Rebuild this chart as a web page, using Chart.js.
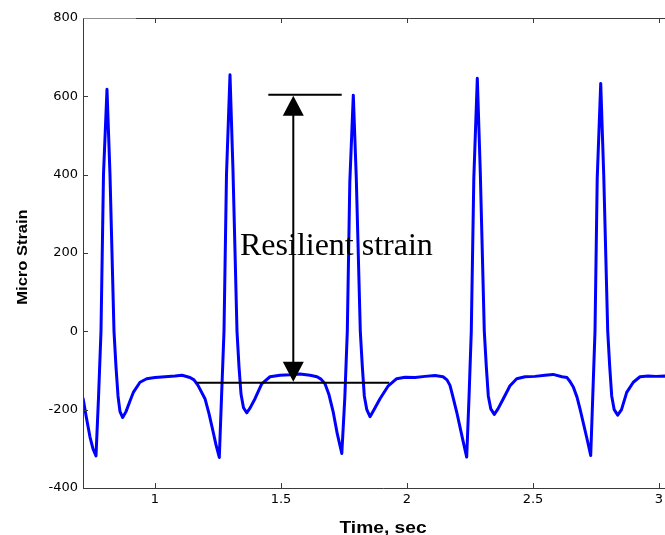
<!DOCTYPE html>
<html>
<head>
<meta charset="utf-8">
<title>Micro Strain vs Time</title>
<script src="https://cdn.jsdelivr.net/npm/chart.js@4.4.1/dist/chart.umd.min.js"></script>
<style>
    html, body { margin: 0; padding: 0; background: #fff; overflow: hidden; }
    #wrap { width: 700px; height: 535px; }
</style>
</head>
<body>
<div id="wrap"><canvas id="strainChart" width="700" height="535"></canvas></div>
<script>
// strain gauge record, time in seconds
const timeSec = [
    0.7143, 0.7262, 0.7421, 0.7540, 0.7659, 0.7758, 0.7857, 0.7956, 0.8095, 0.8214,
    0.8373, 0.8452, 0.8532, 0.8611, 0.8718, 0.8849, 0.9008, 0.9139, 0.9405, 0.9671,
    1.0000, 1.0397, 1.0794, 1.1071, 1.1389,
    1.1548, 1.1706, 1.1984, 1.2143, 1.2302, 1.2421, 1.2552, 1.2639, 1.2738, 1.2837,
    1.2976, 1.3095, 1.3254, 1.3333, 1.3413, 1.3512, 1.3639, 1.3770, 1.3968, 1.4234,
    1.4563, 1.4960, 1.5357, 1.5754, 1.6151,
    1.6429, 1.6587, 1.6746, 1.6905, 1.7075, 1.7234, 1.7413, 1.7532, 1.7631, 1.7730,
    1.7869, 1.7988, 1.8147, 1.8227, 1.8306, 1.8405, 1.8532, 1.8690, 1.8929, 1.9258,
    1.9591, 1.9921, 2.0317, 2.0714, 2.1111,
    2.1429, 2.1587, 2.1706, 2.1825, 2.1972, 2.2234, 2.2369, 2.2460, 2.2551, 2.2651,
    2.2790, 2.2909, 2.3067, 2.3147, 2.3226, 2.3325, 2.3464, 2.3611, 2.3821, 2.4087,
    2.4353, 2.4683, 2.5079, 2.5476, 2.5794, 2.6151,
    2.6349, 2.6468, 2.6599, 2.6746, 2.6865, 2.7131, 2.7290, 2.7369, 2.7460, 2.7548,
    2.7687, 2.7806, 2.7965, 2.8044, 2.8123, 2.8222, 2.8361, 2.8512, 2.8718, 2.8980,
    2.9246, 2.9563, 2.9881, 3.0238, 3.0833, 3.1429
];
const microStrain = [
    -170, -215, -270, -300, -318, -170, 0, 400, 618, 400,
    0, -90, -165, -205, -220, -205, -178, -156, -130, -121,
    -118, -116, -114, -112, -118,
    -124, -138, -172, -210, -255, -290, -322, -170, 0, 400,
    655, 410, 0, -90, -160, -195, -208, -196, -172, -134,
    -116, -112, -111, -109, -112,
    -116, -122, -134, -162, -207, -262, -312, -170, 0, 380,
    603, 390, 0, -90, -165, -200, -218, -200, -172, -139,
    -121, -117, -118, -115, -113,
    -116, -124, -138, -168, -206, -283, -321, -170, 0, 390,
    646, 405, 0, -90, -165, -198, -212, -198, -172, -139,
    -121, -116, -115, -112, -110, -116,
    -118, -128, -142, -168, -198, -271, -317, -170, 0, 390,
    633, 400, 0, -90, -165, -200, -214, -200, -156, -130,
    -116, -114, -115, -114, -116, -113
];

const xTicks = [1, 1.5, 2, 2.5, 3];
const yTicks = [-400, -200, 0, 200, 400, 600, 800];

// resilient strain marker: peak level, base level, arrow position
const peakLevel = 604;
const baseLevel = -131;
const peakLineX = [1.4496, 1.7409];
const baseLineX = [1.1655, 1.9298];
const arrowX = 1.5488;
const labelPos = [1.3373, 195];

document.addEventListener('DOMContentLoaded', function() {
    const points = timeSec.map((t, i) => ({ x: t, y: microStrain[i] }));

    // frame, inward ticks, axis titles and the arrow annotation
    const matlabAxes = {
        id: 'matlabAxes',
        afterDatasetsDraw(chart) {
            const ctx = chart.ctx;
            const a = chart.chartArea;
            const xs = chart.scales.x;
            const ys = chart.scales.y;

            ctx.save();
            ctx.strokeStyle = '#3a3a3a';
            ctx.lineWidth = 1;
            ctx.beginPath();
            ctx.moveTo(a.left + 0.5, a.top + 0.5);
            ctx.lineTo(a.left + 0.5, a.bottom + 0.5);
            ctx.lineTo(a.right, a.bottom + 0.5);
            ctx.moveTo(136, a.top + 0.5);
            ctx.lineTo(a.right, a.top + 0.5);
            xTicks.forEach(v => {
                const px = Math.round(xs.getPixelForValue(v)) + 0.5;
                ctx.moveTo(px, a.bottom);
                ctx.lineTo(px, a.bottom - 5);
                ctx.moveTo(px, a.top);
                ctx.lineTo(px, a.top + 5);
            });
            yTicks.forEach(v => {
                const py = Math.round(ys.getPixelForValue(v)) + 0.5;
                ctx.moveTo(a.left, py);
                ctx.lineTo(a.left + 5, py);
            });
            ctx.stroke();
            // lighter stretch at the start of the top border
            ctx.strokeStyle = '#909090';
            ctx.beginPath();
            ctx.moveTo(a.left + 0.5, a.top + 0.5);
            ctx.lineTo(136, a.top + 0.5);
            ctx.stroke();

            // axis titles
            ctx.fillStyle = '#000';
            ctx.font = 'bold 16px "Liberation Sans", Arial, sans-serif';
            ctx.textAlign = 'center';
            ctx.textBaseline = 'alphabetic';
            ctx.save();
            ctx.translate(383, 533);
            ctx.scale(1.2, 1);
            ctx.fillText('Time, sec', 0, 0);
            ctx.restore();

            ctx.font = 'bold 15px "Liberation Sans", Arial, sans-serif';
            ctx.save();
            ctx.translate(27, 257);
            ctx.rotate(-Math.PI / 2);
            ctx.scale(1.1, 1);
            ctx.fillText('Micro Strain', 0, 0);
            ctx.restore();

            // resilient strain arrow
            const ax = xs.getPixelForValue(arrowX);
            const yTop = ys.getPixelForValue(peakLevel);
            const yBase = ys.getPixelForValue(baseLevel);
            ctx.strokeStyle = '#000';
            ctx.lineWidth = 2;
            ctx.beginPath();
            ctx.moveTo(xs.getPixelForValue(peakLineX[0]), yTop);
            ctx.lineTo(xs.getPixelForValue(peakLineX[1]), yTop);
            ctx.moveTo(xs.getPixelForValue(baseLineX[0]), yBase);
            ctx.lineTo(xs.getPixelForValue(baseLineX[1]), yBase);
            ctx.moveTo(ax, yTop + 18);
            ctx.lineTo(ax, yBase - 18);
            ctx.stroke();

            ctx.fillStyle = '#000';
            ctx.beginPath();
            ctx.moveTo(ax, yTop + 1);
            ctx.lineTo(ax - 10.5, yTop + 21);
            ctx.lineTo(ax + 10.5, yTop + 21);
            ctx.closePath();
            ctx.moveTo(ax, yBase - 1);
            ctx.lineTo(ax - 10.5, yBase - 21);
            ctx.lineTo(ax + 10.5, yBase - 21);
            ctx.closePath();
            ctx.fill();

            ctx.font = '32px "Liberation Serif", "Times New Roman", serif';
            ctx.textAlign = 'left';
            ctx.fillText('Resilient strain', xs.getPixelForValue(labelPos[0]), ys.getPixelForValue(labelPos[1]));
            ctx.restore();
        }
    };

    const tickFont = { family: '"DejaVu Sans", sans-serif', size: 13 };

    new Chart(document.getElementById('strainChart'), {
        type: 'line',
        data: {
            datasets: [{
                data: points,
                borderColor: '#0000ff',
                borderWidth: 3,
                borderJoinStyle: 'round',
                pointRadius: 0,
                tension: 0,
                fill: false
            }]
        },
        options: {
            responsive: false,
            animation: false,
            events: [],
            layout: { padding: { top: 18, right: 17, left: 0, bottom: 0 } },
            plugins: { legend: { display: false }, tooltip: { enabled: false } },
            scales: {
                x: {
                    type: 'linear',
                    min: 0.7143,
                    max: 3.0952,
                    grid: { display: false, drawTicks: false },
                    border: { display: false },
                    afterBuildTicks: s => { s.ticks = xTicks.map(v => ({ value: v })); },
                    afterFit: s => { s.height = 47; },
                    ticks: {
                        color: '#000',
                        font: tickFont,
                        padding: 4,
                        maxRotation: 0,
                        autoSkip: false,
                        callback: v => String(v)
                    }
                },
                y: {
                    min: -400,
                    max: 800,
                    grid: { display: false, drawTicks: false },
                    border: { display: false },
                    afterBuildTicks: s => { s.ticks = yTicks.map(v => ({ value: v })); },
                    afterFit: s => { s.width = 83; },
                    ticks: {
                        color: '#000',
                        font: tickFont,
                        padding: 5,
                        autoSkip: false,
                        callback: v => String(v)
                    }
                }
            }
        },
        plugins: [matlabAxes]
    });
});
</script>
</body>
</html>
